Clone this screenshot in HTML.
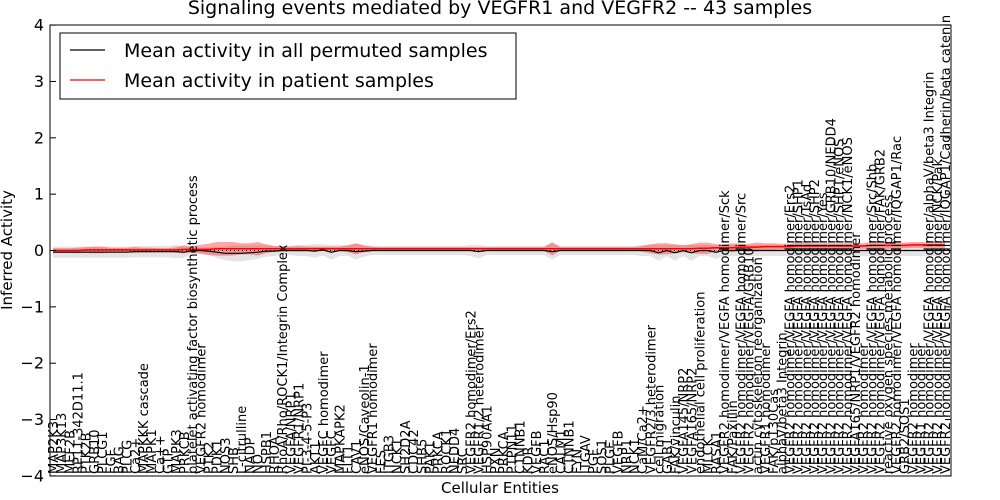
<!DOCTYPE html>
<html><head><meta charset="utf-8">
<style>
html,body{margin:0;padding:0;background:#fff;}
svg{display:block;font-family:"DejaVu Sans","Liberation Sans",sans-serif;}
</style></head>
<body>
<svg id="chart" width="1000" height="500" viewBox="0 0 1000 500" xmlns="http://www.w3.org/2000/svg">
<defs><clipPath id="plotclip"><rect x="50" y="25" width="901" height="451"/></clipPath></defs>
<rect x="0" y="0" width="1000" height="500" fill="#fff"/>
<text x="500" y="14" text-anchor="middle" font-size="19">Signaling events mediated by VEGFR1 and VEGFR2 -- 43 samples</text>
<g id="bands" clip-path="url(#plotclip)"></g>
<g id="lines" clip-path="url(#plotclip)"></g>
<g id="xlabels"></g>
<g id="yaxis"></g>
<rect x="50" y="25" width="901" height="451" fill="none" stroke="#000" stroke-width="1"/>
<text transform="translate(12,250) rotate(-90)" text-anchor="middle" font-size="15">Inferred Activity</text>
<text x="500" y="493" text-anchor="middle" font-size="15">Cellular Entities</text>
<g>
<rect x="60" y="33" width="456" height="66" fill="#fff" stroke="#000" stroke-width="1"/>
<line x1="70" y1="50" x2="105" y2="50" stroke="#000" stroke-width="1.2"/>
<text x="124" y="57" font-size="19">Mean activity in all permuted samples</text>
<line x1="70" y1="80" x2="105" y2="80" stroke="#f00" stroke-width="1.2"/>
<text x="124" y="87" font-size="19">Mean activity in patient samples</text>
</g>
</svg>
<script>
const entities = ["MAP2K3","MAP3K13","MEF2B","RP11-342D11.1","PTK2B","GRB10","PLCG1","FGF","BAG","PLCG","Ca2+","MAPKKK cascade","MAPK1","Ca++","GTP","MAPK3","PRKCB","platelet activating factor biosynthetic process","VEGFR2 homodimer","PTK2","PDK1","NOS3","SHB","L-citrulline","NADP","NO","HSPB1","RHOA","RhoA/Rho/ROCK1/Integrin Complex","VEGFA/NRP1","VEGFR1/NRP1","PI-3-4-5-P3","AKT1","VEGFC homodimer","VEGFC","MAPKAPK2","FLT1","CAV1","eNOS/Caveolin-1","VEGFR1 homodimer","FES","ITGB3","NCK1","SH2D2A","CDC42","SHB5","PAK1","PRKCA","ROCK1","NEDD4","SRC","VEGFR2 homodimer/Ers2","VEGFR1/2 heterodimer","HSP90AA1","PXN","PRKCA","PTPN11","CTNNB1","KDR","VEGFB","RAC1","eNOS/Hsp90","CALM1","CTNNB1","FYN","ITGAV","PGF","SOS1","PLGF","VEGFB","NRP1","NCK1","CaM/Ca2+","VEGFR2/3 heterodimer","cell migration","GAB1","FAK/vinculin","VEGFA145/NRP2","VEGFA165/NRP2","endothelial cell proliferation","MLCK","RASA1","VEGFR2 homodimer/VEGFA homodimer/Sck","FAK/Paxillin","VEGFR2 homodimer/VEGFA homodimer/Src","VEGFR2 homodimer/VEGFA/GRB10","actin cytoskeleton reorganization","VEGFR1 homodimer","FAK/p130Cas","alphaV/beta3 Integrin","VEGFR2 homodimer/VEGFA homodimer/Ers2","VEGFR2 homodimer/VEGFA homodimer/SHP1","VEGFR2 homodimer/VEGFA homodimer/TsAd","VEGFR2 homodimer/VEGFA homodimer/SHP2","VEGFR2 homodimer/VEGFA homodimer/Yes","VEGFR2 homodimer/VEGFA homodimer/GRB10/NEDD4","VEGFR2 homodimer/VEGFA homodimer/SHP1/eNOS","VEGFR2 homodimer/VEGFA homodimer/NCK1/eNOS","VEGFA165/NRP1/VEGFR2 homodimer","VEGFR2 homodimer","VEGFR2 homodimer/VEGFA homodimer/Src/Shb","VEGFR2 homodimer/VEGFA homodimer/FAK/GRB2","reactive oxygen species metabolic process","VEGFR2 homodimer/VEGFA homodimer/IQGAP1/Rac","GRB2/SOS1","VEGFR2 homodimer","VEGFR1 homodimer","VEGFR2 homodimer/VEGFA homodimer/alphaV/beta3 Integrin","VEGFR2 homodimer/VEGFA homodimer/NCK/Pak","VEGFR2 homodimer/VEGFA homodimer/IQGAP1/Cadherin/beta catenin"];
const patientMean = [0.00,0.00,0.00,0.00,0.01,0.01,0.01,0.01,0.01,0.01,0.01,0.01,0.01,0.01,0.01,0.01,0.02,0.02,0.02,0.02,0.03,0.03,0.03,0.03,0.03,0.03,0.03,0.03,0.03,0.03,0.03,0.03,0.03,0.03,0.03,0.03,0.03,0.03,0.03,0.03,0.03,0.03,0.03,0.03,0.03,0.03,0.03,0.03,0.03,0.03,0.03,0.03,0.03,0.03,0.03,0.03,0.03,0.03,0.03,0.03,0.03,0.03,0.03,0.03,0.03,0.03,0.03,0.03,0.03,0.03,0.03,0.03,0.03,0.03,0.03,0.03,0.03,0.03,0.03,0.04,0.04,0.05,0.05,0.05,0.06,0.06,0.06,0.07,0.07,0.07,0.07,0.08,0.08,0.08,0.08,0.08,0.08,0.08,0.08,0.08,0.09,0.09,0.09,0.09,0.09,0.10,0.10,0.10,0.10,0.10,0.10];
const patientSpread = [0.04,0.04,0.04,0.05,0.05,0.06,0.06,0.04,0.04,0.04,0.05,0.04,0.04,0.03,0.03,0.05,0.07,0.06,0.08,0.10,0.12,0.12,0.12,0.10,0.10,0.12,0.08,0.05,0.05,0.04,0.05,0.04,0.04,0.04,0.04,0.04,0.06,0.10,0.06,0.04,0.03,0.03,0.03,0.03,0.03,0.03,0.03,0.03,0.03,0.03,0.03,0.03,0.03,0.03,0.03,0.03,0.03,0.03,0.03,0.03,0.03,0.12,0.03,0.03,0.03,0.03,0.03,0.03,0.03,0.03,0.03,0.03,0.05,0.08,0.10,0.10,0.08,0.06,0.08,0.10,0.10,0.06,0.06,0.08,0.06,0.06,0.08,0.06,0.06,0.05,0.05,0.06,0.06,0.05,0.05,0.05,0.05,0.05,0.05,0.05,0.06,0.08,0.06,0.06,0.05,0.05,0.05,0.05,0.05,0.05,0.05];
const permutedMean = [-0.03,-0.03,-0.03,-0.03,-0.03,-0.03,-0.03,-0.03,-0.03,-0.03,-0.02,-0.02,-0.02,-0.02,-0.02,-0.02,-0.03,0.00,0.00,-0.01,-0.03,-0.05,-0.05,-0.05,-0.04,-0.03,-0.01,-0.01,0.00,0.00,0.00,0.00,-0.01,0.01,-0.03,0.00,0.00,-0.02,-0.01,0.00,0.00,0.00,0.00,0.00,0.00,0.00,0.00,0.00,0.00,0.00,0.00,0.00,-0.02,0.00,0.00,0.00,0.00,0.00,0.00,0.00,0.00,-0.02,0.00,0.00,0.00,0.00,0.00,0.00,0.00,0.00,0.00,0.00,0.00,0.00,-0.04,0.00,-0.04,0.00,-0.04,0.00,0.00,-0.03,0.00,0.00,0.00,0.00,0.00,0.00,0.00,0.00,0.00,0.00,0.00,0.00,0.00,0.00,0.00,0.00,0.00,0.00,0.00,0.00,0.00,0.00,0.00,0.00,0.00,0.00,0.00,0.00,0.00];
const permutedSpread = [0.10,0.10,0.10,0.10,0.10,0.10,0.10,0.10,0.10,0.10,0.10,0.10,0.10,0.10,0.10,0.12,0.10,0.06,0.05,0.07,0.10,0.12,0.14,0.14,0.13,0.12,0.10,0.09,0.08,0.08,0.10,0.10,0.12,0.10,0.13,0.10,0.09,0.14,0.10,0.08,0.08,0.08,0.08,0.08,0.08,0.08,0.08,0.08,0.08,0.08,0.08,0.10,0.12,0.08,0.08,0.08,0.08,0.08,0.08,0.08,0.08,0.14,0.08,0.08,0.08,0.08,0.08,0.08,0.08,0.08,0.08,0.08,0.10,0.10,0.14,0.10,0.14,0.10,0.14,0.10,0.10,0.12,0.10,0.10,0.10,0.10,0.10,0.10,0.10,0.10,0.10,0.10,0.10,0.10,0.10,0.10,0.10,0.10,0.10,0.10,0.10,0.10,0.10,0.10,0.10,0.10,0.10,0.10,0.10,0.10,0.10];
const yTicks = [-4,-3,-2,-1,0,1,2,3,4];

const NS = "http://www.w3.org/2000/svg";
const X0 = 53, X1 = 945, Y0 = 250.5, PXU = 56.35;
const N = Math.min(entities.length, patientMean.length, patientSpread.length, permutedMean.length, permutedSpread.length);
function xs(i){ return X0 + (X1 - X0) * i / (N - 1); }
function ys(v){ return Y0 - v * PXU; }
function mk(tag, attrs){ const e = document.createElementNS(NS, tag); for (const k in attrs) e.setAttribute(k, attrs[k]); return e; }

const bands = document.getElementById('bands');
const lines = document.getElementById('lines');
function bandPath(mean, spread){
  let up = [], dn = [];
  for (let i = 0; i < N; i++){ up.push(xs(i).toFixed(1)+','+ys(mean[i]+spread[i]).toFixed(1)); dn.unshift(xs(i).toFixed(1)+','+ys(mean[i]-spread[i]).toFixed(1)); }
  return 'M' + up.join('L') + 'L' + dn.join('L') + 'Z';
}
function linePath(mean){ return 'M' + mean.slice(0, N).map((v,i)=>xs(i).toFixed(1)+','+ys(v).toFixed(1)).join('L'); }

const gb = mk('path', {d: bandPath(permutedMean, permutedSpread), fill:'#bbbbbb', 'fill-opacity':'0.4', stroke:'none'});


bands.appendChild(gb);
const rb = mk('path', {d: bandPath(patientMean, patientSpread), fill:'#ff0000', 'fill-opacity':'0.35', stroke:'none'});


bands.appendChild(rb);
const zl = mk('line', {x1:50, x2:951, y1:ys(0), y2:ys(0), stroke:'#000', 'stroke-dasharray':'1,3', 'stroke-width':1});


lines.appendChild(zl);
const bl = mk('path', {d: linePath(permutedMean), fill:'none', stroke:'#000', 'stroke-width':1.2});


lines.appendChild(bl);
const rl = mk('path', {d: linePath(patientMean), fill:'none', stroke:'#f00', 'stroke-width':1.5});


lines.appendChild(rl);

const xl = document.getElementById('xlabels');
entities.slice(0, N).forEach((name, i) => {
  const t = mk('text', {transform:'translate('+(xs(i)+5).toFixed(1)+',474) rotate(-90)', 'font-size':'13'});
  t.textContent = name;
  
  
  xl.appendChild(t);
});

const ya = document.getElementById('yaxis');
yTicks.forEach(v => {
  const y = ys(v);
  const t = mk('text', {x:44, y:(y+5.5).toFixed(1), 'text-anchor':'end', 'font-size':'16'});
  t.textContent = (v < 0 ? '\u2212' + Math.abs(v) : String(v));
  
  
  ya.appendChild(t);
  const tl = mk('line', {x1:50, x2:56, y1:y, y2:y, stroke:'#000'});
  
  
  ya.appendChild(tl);
  const tr = mk('line', {x1:945, x2:951, y1:y, y2:y, stroke:'#000'});
  
  
  ya.appendChild(tr);
});
</script>
</body></html>
